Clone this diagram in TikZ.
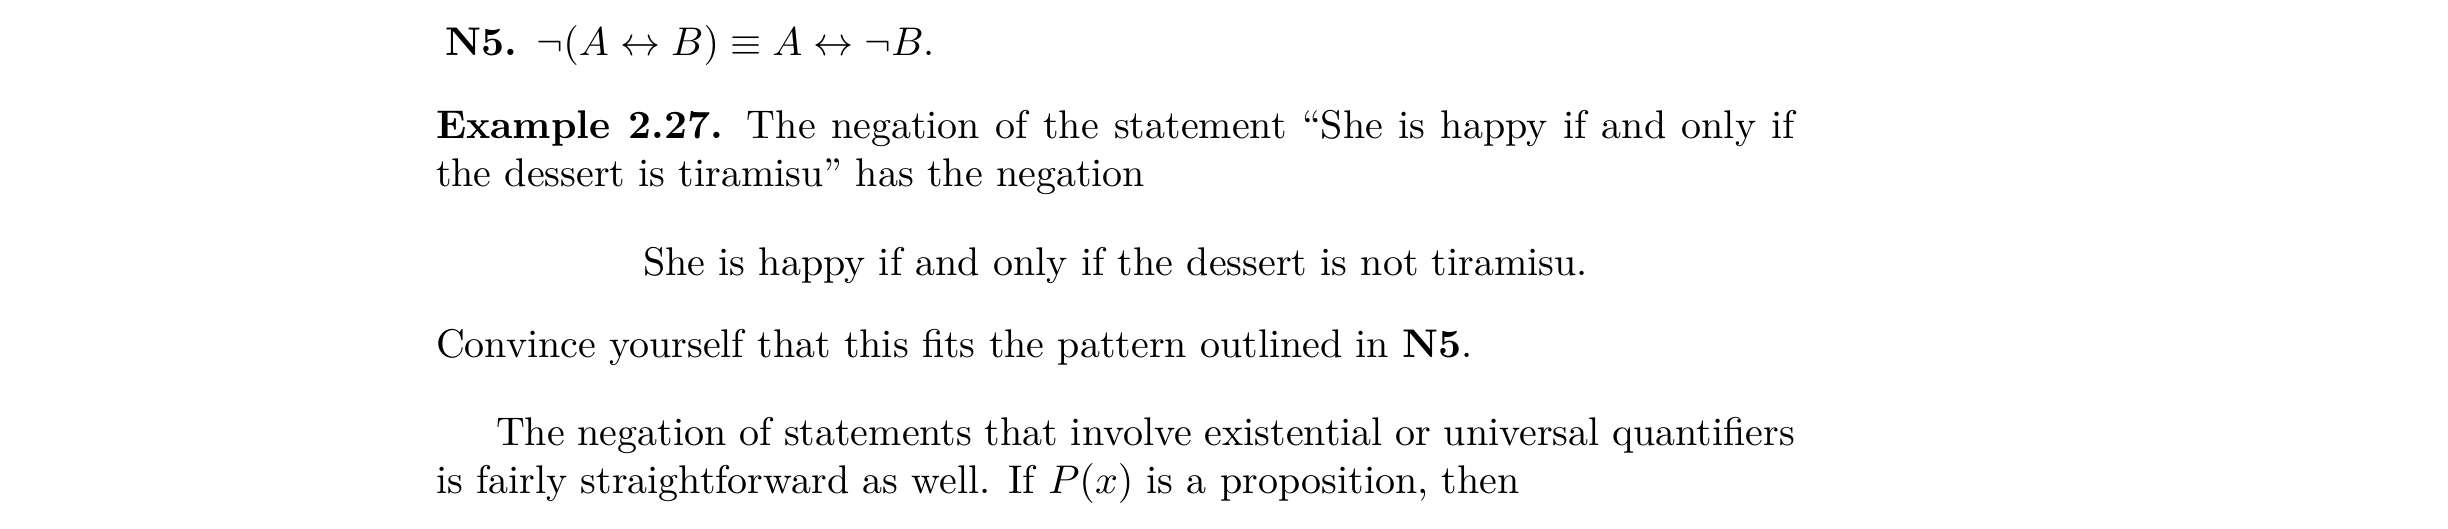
\documentclass[tikz,border=0pt]{standalone}
\usepackage{amsmath}
\usepackage{amssymb}
\usepackage{xcolor}
\usepackage{tikz}
\usetikzlibrary{positioning}

\tikzset{textline/.style={anchor=base west,inner sep=0pt,outer sep=0pt},
	para/.style={textline,text width=339.75pt,align=justify}}

\begin{document}
\begin{tikzpicture}[x=1pt,y=1pt]
		\useasboundingbox (0,0) rectangle (612,132);
		\node[textline] (rule) at (111.25,118.25) {\textbf{N5.}\enspace$\neg(A\leftrightarrow B)\equiv A\leftrightarrow\neg B$.};
		\node[para] (example) at (109,97.5) {\textbf{Example 2.27.} The negation of the statement ``She is happy if and only if\linebreak the dessert is tiramisu'' has the negation};
		\node[anchor=base,inner sep=0pt] (display) at (278.875,63.25) {She is happy if and only if the dessert is not tiramisu.};
		\node[textline] (convince) at (109,42.75) {Convince yourself that this fits the pattern outlined in \textbf{N5}.};
		\node[para] (negation) at (109,20.75) {\hspace*{15pt}The negation of statements that involve existential or universal quantifiers\linebreak is fairly straightforward as well. If $P(x)$ is a proposition, then};
	\end{tikzpicture}
\end{document}
